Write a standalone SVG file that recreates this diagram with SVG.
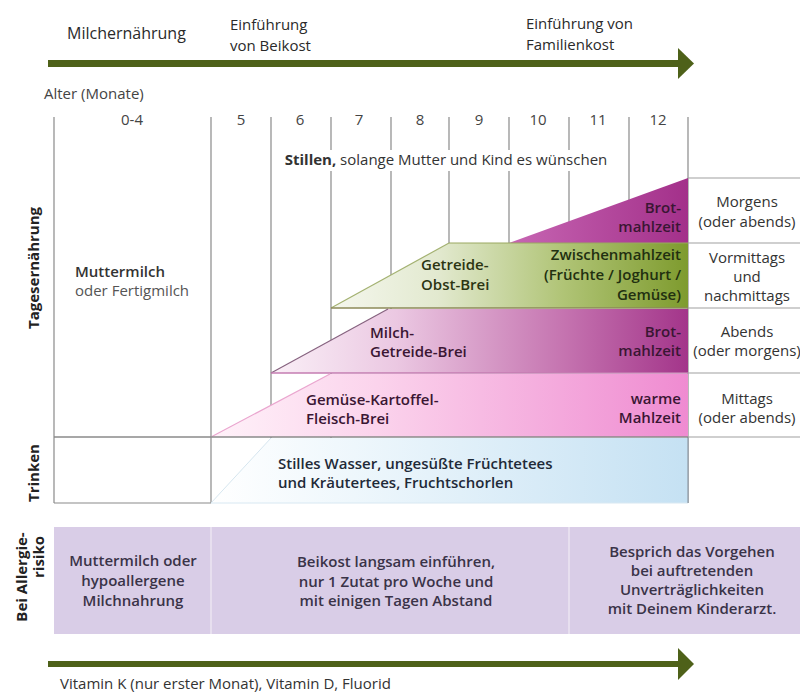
<svg xmlns="http://www.w3.org/2000/svg" width="800" height="693" viewBox="0 0 800 693">
<style>
text{font-family:"Open Sans","Noto Sans","Liberation Sans",sans-serif;font-size:15px;fill:#333}
.h{font-size:15px;fill:#2a2a2a}
.h1{font-size:16px;fill:#2a2a2a}
.m{text-anchor:middle}
.e{text-anchor:end}
.sb{font-weight:600}
.b{font-weight:700}
.rot{font-weight:700;font-size:15px;fill:#222;text-anchor:middle}
.grid{stroke:#8a8a8a;stroke-width:1.2;fill:none}
.sep{stroke:#a0a0a0;stroke-width:1.2;fill:none}
.num{fill:#444;text-anchor:middle}
.al{fill:#3a3348;text-anchor:middle;font-weight:600}
.arrow{fill:#4e6119}
</style>
<defs>
<linearGradient id="gBrot" x1="0" y1="0" x2="1" y2="0"><stop offset="0" stop-color="#c766b3"/><stop offset="1" stop-color="#a3308a"/></linearGradient>
<linearGradient id="gGreen" x1="0" y1="0" x2="1" y2="0"><stop offset="0" stop-color="#f5f7ee"/><stop offset="0.3" stop-color="#e2e9cf"/><stop offset="0.65" stop-color="#b0c476"/><stop offset="1" stop-color="#7e9b2e"/></linearGradient>
<linearGradient id="gMilch" x1="0" y1="0" x2="1" y2="0"><stop offset="0" stop-color="#faf0f7"/><stop offset="0.3" stop-color="#ebc8e2"/><stop offset="0.7" stop-color="#c574b0"/><stop offset="1" stop-color="#a3358a"/></linearGradient>
<linearGradient id="gGem" x1="0" y1="0" x2="1" y2="0"><stop offset="0" stop-color="#fff2f9"/><stop offset="0.35" stop-color="#fbd3ec"/><stop offset="1" stop-color="#ef8bd1"/></linearGradient>
<linearGradient id="gWater" x1="0" y1="0" x2="1" y2="0"><stop offset="0" stop-color="#ffffff"/><stop offset="0.3" stop-color="#eef7fc"/><stop offset="1" stop-color="#c5e1f3"/></linearGradient>
</defs>
<rect width="800" height="693" fill="#ffffff"/>

<g id="phases">
<text class="h1" x="67" y="39">Milchernährung</text>
<text class="h" x="230" y="30">Einführung</text>
<text class="h" x="230" y="51">von Beikost</text>
<text class="h" x="526" y="29">Einführung von</text>
<text class="h" x="526" y="50">Familienkost</text>
</g>

<g id="connectors">
<rect class="arrow" x="48" y="60" width="632" height="7"/>
<polygon class="arrow" points="678,48 694,63.5 678,79"/>
<rect class="arrow" x="48" y="661" width="632" height="6"/>
<polygon class="arrow" points="678,648 694,664 678,680"/>
</g>

<g id="age-axis">
<text x="44" y="99" style="fill:#444">Alter (Monate)</text>
<text class="num" x="132" y="125">0-4</text>
<text class="num" x="241" y="125">5</text>
<text class="num" x="300" y="125">6</text>
<text class="num" x="359" y="125">7</text>
<text class="num" x="420" y="125">8</text>
<text class="num" x="479" y="125">9</text>
<text class="num" x="538" y="125">10</text>
<text class="num" x="598" y="125">11</text>
<text class="num" x="658" y="125">12</text>
<path class="grid" d="M54 117V503M211 117V503M271 117V503M331 117V150M331 171V503M391 117V150M391 171V310M449 117V150M449 171V245M509 117V150M509 171V245M569 117V150M569 171V245M629 117V245M688 117V503"/>
<path class="grid" d="M54 503H211"/>
<text class="m" x="446" y="165"><tspan class="b">Stillen,</tspan> solange Mutter und Kind es wünschen</text>
</g>

<g id="brot-morgens">
<polygon points="509,243 688,178 688,243" fill="url(#gBrot)"/>
<text class="e sb" x="681" y="213" style="fill:#3a1633">Brot-</text>
<text class="e sb" x="681" y="232" style="fill:#3a1633">mahlzeit</text>
</g>

<g id="getreide-obst-brei">
<polygon points="449,243 688,243 688,308 331,308" fill="url(#gGreen)"/>
<path d="M331 308L449 243" stroke="#a4b272" stroke-width="1.2" fill="none"/>
<path d="M449 243H688" stroke="#9aa860" stroke-width="1" fill="none"/>
<path d="M331 308H688" stroke="#8c8a58" stroke-width="1.5" fill="none"/>
<text class="sb" x="421" y="270" style="fill:#2c3512">Getreide-</text>
<text class="sb" x="421" y="290" style="fill:#2c3512">Obst-Brei</text>
<text class="e sb" x="681" y="260" style="fill:#223010">Zwischenmahlzeit</text>
<text class="e sb" x="681" y="280" style="fill:#223010">(Früchte / Joghurt /</text>
<text class="e sb" x="681" y="300" style="fill:#223010">Gemüse)</text>
</g>

<g id="milch-getreide-brei">
<polygon points="388,309 688,309 688,373 271,373" fill="url(#gMilch)"/>
<path d="M271 373L388 309" stroke="#86627f" stroke-width="1.2" fill="none"/>
<path d="M271 373H688" stroke="#c47cb2" stroke-width="1.5" fill="none"/>
<text class="sb" x="370" y="338" style="fill:#3a1633">Milch-</text>
<text class="sb" x="370" y="357" style="fill:#3a1633">Getreide-Brei</text>
<text class="e sb" x="681" y="337" style="fill:#3a1633">Brot-</text>
<text class="e sb" x="681" y="356" style="fill:#3a1633">mahlzeit</text>
</g>

<g id="gemuese-brei">
<polygon points="330,374 688,374 688,437 211,437" fill="url(#gGem)"/>
<path d="M211 437L330 374" stroke="#eaa6cf" stroke-width="1.2" fill="none"/>
<text class="sb" x="306" y="405" style="fill:#3a1633">Gemüse-Kartoffel-</text>
<text class="sb" x="306" y="424" style="fill:#3a1633">Fleisch-Brei</text>
<text class="e sb" x="681" y="404" style="fill:#3a1633">warme</text>
<text class="e sb" x="681" y="423" style="fill:#3a1633">Mahlzeit</text>
</g>

<g id="trinken">
<polygon points="271,438 688,438 688,503 211,503" fill="url(#gWater)"/>
<path d="M211 503L271 438" stroke="#d6e6ef" stroke-width="1" fill="none"/>
<path d="M211 503H688" stroke="#d8e8f2" stroke-width="1" fill="none"/>
<path d="M688 437V503" stroke="#8f9aa6" stroke-width="1.2" fill="none"/>
<text class="sb" x="278" y="469" style="fill:#1f2a38">Stilles Wasser, ungesüßte Früchtetees</text>
<text class="sb" x="278" y="488" style="fill:#1f2a38">und Kräutertees, Fruchtschorlen</text>
</g>

<g id="row-lines">
<path d="M54 437H688" stroke="#8a8a8a" stroke-width="1.6" fill="none"/>
<path class="sep" d="M688 178H800M688 243H800M688 308H800M688 373H800M688 437H800"/>
</g>

<g id="muttermilch">
<text class="sb" x="75" y="277">Muttermilch</text>
<text x="75" y="296" style="fill:#555">oder Fertigmilch</text>
</g>

<g id="tageszeiten">
<text class="m" x="747" y="207">Morgens</text>
<text class="m" x="747" y="227">(oder abends)</text>
<text class="m" x="747" y="263">Vormittags</text>
<text class="m" x="747" y="282">und</text>
<text class="m" x="747" y="301">nachmittags</text>
<text class="m" x="747" y="337">Abends</text>
<text class="m" x="747" y="356">(oder morgens)</text>
<text class="m" x="747" y="404">Mittags</text>
<text class="m" x="747" y="423">(oder abends)</text>
</g>

<g id="side-labels">
<text class="rot" transform="translate(39,268) rotate(-90)">Tagesernährung</text>
<text class="rot" transform="translate(39,473) rotate(-90)">Trinken</text>
<text class="rot" transform="translate(27,577) rotate(-90)">Bei Allergie-</text>
<text class="rot" transform="translate(44,557) rotate(-90)">risiko</text>
</g>

<g id="allergie">
<rect x="54" y="527" width="746" height="107" fill="#d9cde7"/>
<path d="M211 527V634M569 527V634" stroke="#ebe5f2" stroke-width="1.5" fill="none"/>
<text class="al" x="133" y="566">Muttermilch oder</text>
<text class="al" x="133" y="586">hypoallergene</text>
<text class="al" x="133" y="606">Milchnahrung</text>
<text class="al" x="396" y="567">Beikost langsam einführen,</text>
<text class="al" x="396" y="587">nur 1 Zutat pro Woche und</text>
<text class="al" x="396" y="606">mit einigen Tagen Abstand</text>
<text class="al" x="692" y="557">Besprich das Vorgehen</text>
<text class="al" x="692" y="576">bei auftretenden</text>
<text class="al" x="692" y="595">Unverträglichkeiten</text>
<text class="al" x="692" y="614">mit Deinem Kinderarzt.</text>
</g>

<g id="vitamine">
<text x="60" y="689">Vitamin K (nur erster Monat), Vitamin D, Fluorid</text>
</g>
</svg>
